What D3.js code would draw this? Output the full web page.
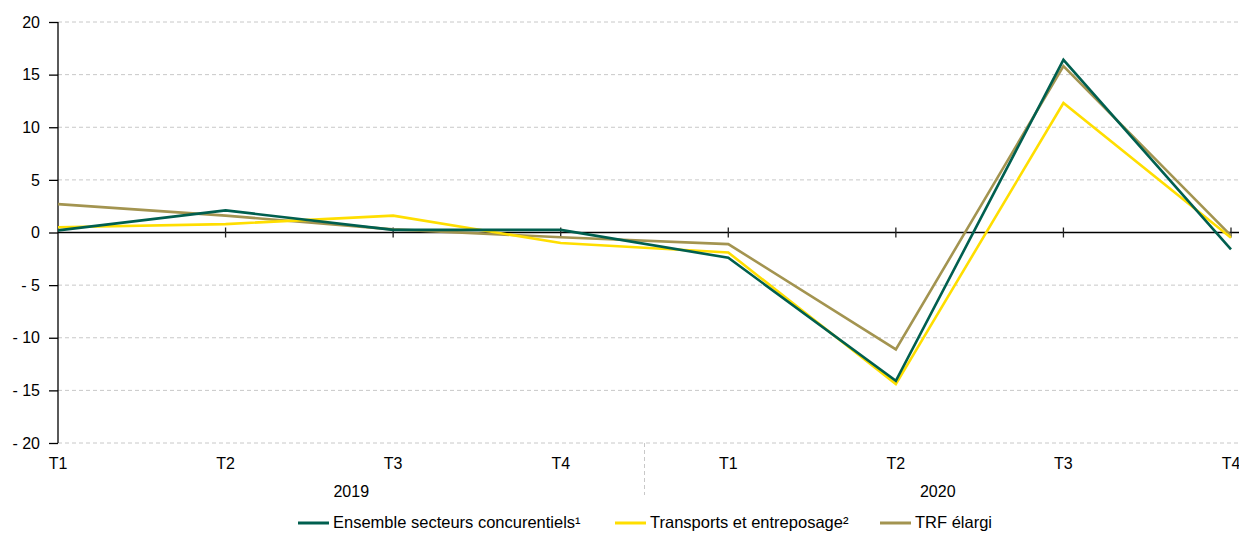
<!DOCTYPE html>
<html><head><meta charset="utf-8">
<script src="https://cdn.jsdelivr.net/npm/d3@7"></script>
<style>body{margin:0;background:#fff}svg{display:block}text{font-family:"Liberation Sans",Arial,sans-serif;fill:#000}</style>
</head><body><svg id="c" width="1239" height="533"></svg>
<script>
const quarters = ["T1","T2","T3","T4","T1","T2","T3","T4"];
const years = ["2019","2020"];
const yTicks = [20,15,10,5,0,-5,-10,-15,-20];
const ensemble = [0.2, 2.1, 0.25, 0.25, -2.4, -14.1, 16.4, -1.6];
const transports = [0.5, 0.8, 1.6, -1.0, -1.9, -14.4, 12.3, -0.5];
const trf = [2.7, 1.6, 0.3, -0.45, -1.1, -11.1, 15.8, -0.3];
const seriesNames = ["Ensemble secteurs concurentiels¹","Transports et entreposage²","TRF élargi"];
const colors = ["#005f4f","#ffde00","#a39450"];

const svg = d3.select("#c");
const x = d3.scaleLinear().domain([0,7]).range([58,1231]);
const y = d3.scaleLinear().domain([-20,20]).range([443,22]);

// grid
svg.append("g").selectAll("line").data(yTicks.filter(d=>d!==0)).join("line")
  .attr("x1",58).attr("x2",1239).attr("y1",d=>y(d)).attr("y2",d=>y(d))
  .attr("stroke","#c8c8c8").attr("stroke-dasharray","4,3").attr("stroke-width",1);

// y axis
const ya = svg.append("g").attr("transform","translate(58,0)")
  .call(d3.axisLeft(y).tickValues(yTicks).tickSize(9).tickPadding(9)
    .tickFormat(d=> d<0 ? "- "+Math.abs(d) : String(d)));
ya.select(".domain").attr("stroke","#000").attr("stroke-width",1.3).attr("d","M0,"+y(20)+"V"+y(-20));
ya.selectAll(".tick line").attr("stroke","#000").attr("stroke-width",1.3);
ya.selectAll("text").style("font-size","16px").style("font-family","Liberation Sans, Arial, sans-serif");

// zero line
svg.append("line").attr("x1",58).attr("x2",1239).attr("y1",y(0)).attr("y2",y(0)).attr("stroke","#000").attr("stroke-width",1.3);
svg.append("g").selectAll("line").data(d3.range(1,8)).join("line")
  .attr("x1",d=>x(d)).attr("x2",d=>x(d)).attr("y1",y(0)-5).attr("y2",y(0)+5)
  .attr("stroke","#222").attr("stroke-width",1.3);

// x labels
svg.append("g").selectAll("text").data(quarters).join("text")
  .attr("x",(d,i)=>x(i)).attr("y",469).attr("text-anchor","middle").style("font-size","16px").text(d=>d);
svg.append("g").selectAll("text").data(years).join("text")
  .attr("x",(d,i)=>(x(i*4-(i?0.5:0)) + x(i===0?3.5:7))/2).attr("y",497).attr("text-anchor","middle").style("font-size","16px").text(d=>d);
svg.append("line").attr("x1",x(3.5)).attr("x2",x(3.5)).attr("y1",443).attr("y2",495)
  .attr("stroke","#c8c8c8").attr("stroke-dasharray","4,3");

// lines
const line = d3.line().x((d,i)=>x(i)).y(d=>y(d));
const data = [trf, transports, ensemble];
const cols = [colors[2], colors[1], colors[0]];
svg.append("g").selectAll("path").data(data).join("path")
  .attr("d",line).attr("fill","none").attr("stroke",(d,i)=>cols[i]).attr("stroke-width",2.6).attr("stroke-linejoin","miter");

// legend
const legX = [298, 615, 880];
const lg = svg.append("g").selectAll("g").data(seriesNames).join("g").attr("transform",(d,i)=>`translate(${legX[i]},0)`);
lg.append("line").attr("x1",0).attr("x2",31).attr("y1",523).attr("y2",523).attr("stroke",(d,i)=>colors[i]).attr("stroke-width",3);
lg.append("text").attr("x",35).attr("y",528).style("font-size","16.5px").text(d=>d);
</script></body></html>
